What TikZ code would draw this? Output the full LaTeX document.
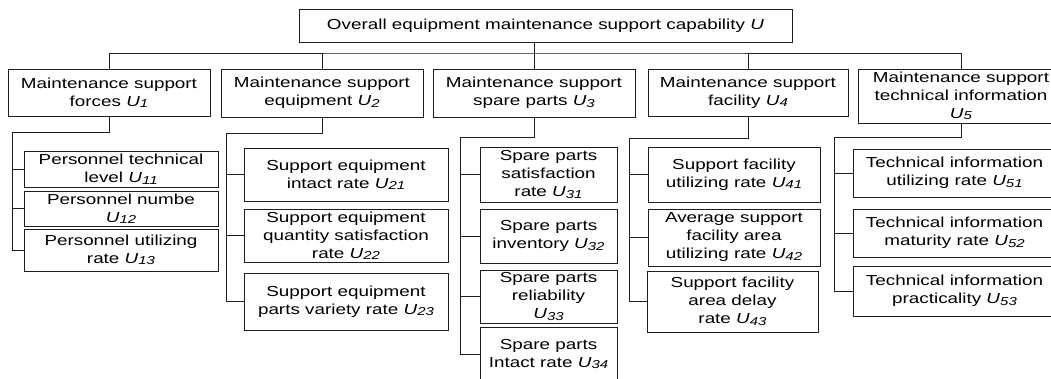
\documentclass[tikz,border=0pt]{standalone}
\usepackage{fontspec}
\setmainfont[FakeStretch=1.3]{Liberation Sans}
\newcommand{\boxfont}{\fontsize{14.5}{18}\selectfont}
\newcommand{\Usub}[1]{\textit{U}\raisebox{-1.5pt}{\fontsize{11.5}{11.5}\selectfont\textit{#1}}}
\definecolor{linegray}{RGB}{30,30,30}
\tikzset{idx/.style 2 args={draw=linegray,line width=1pt,align=center,inner sep=0pt,font=\boxfont,minimum width=#1,minimum height=#2}, link/.style={draw=linegray,line width=1pt}}

\begin{document}
\begin{tikzpicture}[x=1pt,y=-1pt]
\useasboundingbox (0,0) rectangle (1051,378);
\clip (0,0) rectangle (1051,378);
\node[idx={493}{33}] (U) at (545.5,25.5) {Overall equipment maintenance support capability \textit{U}};
\node[idx={202}{47}] (U1) at (109,92.5) {Maintenance support\\forces \Usub{1}};
\node[idx={202}{48}] (U2) at (322,93) {Maintenance support\\equipment \Usub{2}};
\node[idx={202}{48}] (U3) at (534,93) {Maintenance support\\spare parts \Usub{3}};
\node[idx={200}{47}] (U4) at (748,92.5) {Maintenance support\\facility \Usub{4}};
\node[idx={206}{54}] (U5) at (961,96) {Maintenance support\\technical information\\\Usub{5}};
\node[idx={194}{36}] (U11) at (121,169) {Personnel technical\\level \Usub{11}};
\node[idx={194}{35}] (U12) at (121,208.5) {Personnel numbe\\\Usub{12}};
\node[idx={194}{42}] (U13) at (121,250) {Personnel utilizing\\rate \Usub{13}};
\node[idx={204}{53}] (U21) at (346,174.5) {Support equipment\\intact rate \Usub{21}};
\node[idx={204}{53}] (U22) at (346,235.5) {Support equipment\\quantity satisfaction\\rate \Usub{22}};
\node[idx={204}{57}] (U23) at (346,301.5) {Support equipment\\parts variety rate \Usub{23}};
\node[idx={137}{55}] (U31) at (548.5,174.5) {Spare parts\\satisfaction\\rate \Usub{31}};
\node[idx={137}{54}] (U32) at (548.5,236) {Spare parts\\inventory \Usub{32}};
\node[idx={137}{53}] (U33) at (548.5,296.5) {Spare parts\\reliability\\\Usub{33}};
\node[idx={137}{54}] (U34) at (548.5,354) {Spare parts\\Intact rate \Usub{34}};
\node[idx={172}{55}] (U41) at (734,174.5) {Support facility\\utilizing rate \Usub{41}};
\node[idx={172}{57}] (U42) at (734,237.5) {Average support\\facility area\\utilizing rate \Usub{42}};
\node[idx={171}{61}] (U43) at (732.5,301.5) {Support facility\\area delay\\rate \Usub{43}};
\node[idx={203}{48}] (U51) at (954.5,173) {Technical information\\utilizing rate \Usub{51}};
\node[idx={203}{48}] (U52) at (954.5,233) {Technical information\\maturity rate \Usub{52}};
\node[idx={203}{50}] (U53) at (954.5,291) {Technical information\\practicality \Usub{53}};

\coordinate (bus) at (534,53);
\draw[link] (U.south -| bus) -- (bus);
\draw[link] (U1.north) |- (bus) -| (U5.north);
\foreach \n in {U2,U3,U4} \draw[link] (\n.north) -- (\n.north |- bus);

\coordinate (s1) at (12,132);
\coordinate (s2) at (226,133);
\coordinate (s3) at (460,137);
\coordinate (s4) at (629,138);
\coordinate (s5) at (834,137);
\draw[link] (U1.south) |- (s1) |- (U13.west);
\draw[link] (U2.south) |- (s2) |- (U23.west);
\draw[link] (U3.south) |- (s3) |- (U34.west);
\draw[link] (U4.south) |- (s4) |- (U43.west);
\draw[link] (U5.south) |- (s5) |- (U53.west);
\foreach \c/\s in {U11/s1,U12/s1,U21/s2,U22/s2,U31/s3,U32/s3,U33/s3,U41/s4,U42/s4,U51/s5,U52/s5}
  \draw[link] (\c.west) -- (\c.west -| \s);
\end{tikzpicture}
\end{document}
